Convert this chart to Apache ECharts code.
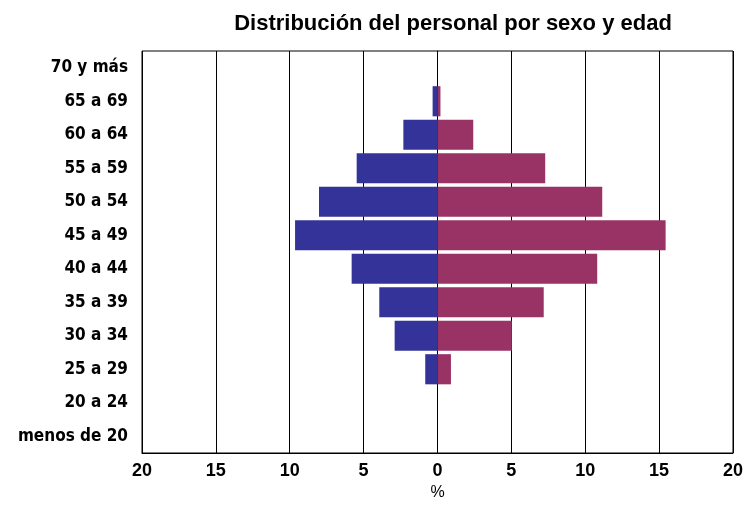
<!DOCTYPE html>
<html>
<head>
<meta charset="utf-8">
<script src="https://cdn.jsdelivr.net/npm/echarts@6/dist/echarts.min.js"></script>
<style>html,body{margin:0;padding:0;background:#fff}#c{width:746px;height:526px}</style>
</head>
<body>
<div id="c"></div>
<script>
var categories = ['menos de 20', '20 a 24', '25 a 29', '30 a 34', '35 a 39', '40 a 44', '45 a 49', '50 a 54', '55 a 59', '60 a 64', '65 a 69', '70 y más'];
var hombres = [0, 0, 0.83, 2.9, 3.94, 5.81, 9.64, 8.02, 5.47, 2.31, 0.33, 0];
var mujeres = [0, 0, 0.91, 5.03, 7.19, 10.81, 15.44, 11.15, 7.29, 2.42, 0.2, 0];
var xTicks = [-20, -15, -10, -5, 0, 5, 10, 15, 20];

var chart = echarts.init(document.getElementById('c'), null, {renderer: 'canvas'});
chart.setOption({
  animation: false,
  backgroundColor: '#fff',
  title: {
    text: 'Distribución del personal por sexo y edad',
    left: 448,
    textAlign: 'center',
    top: 8,
    textStyle: {fontFamily: 'Liberation Sans, Arial, sans-serif', fontWeight: 'bold', fontSize: 22, color: '#000'}
  },
  grid: {left: 142, right: 13, top: 51, bottom: 73, show: true, borderColor: '#000', borderWidth: 1, containLabel: false},
  xAxis: {
    type: 'value',
    min: xTicks[0],
    max: xTicks[xTicks.length - 1],
    interval: 5,
    name: '%',
    nameLocation: 'middle',
    nameGap: 31,
    nameTextStyle: {fontFamily: 'Liberation Sans, Arial, sans-serif', fontSize: 16, color: '#000'},
    axisLine: {show: true, lineStyle: {color: '#000', width: 1}},
    axisTick: {show: false},
    splitLine: {show: true, lineStyle: {color: '#000', width: 1}},
    axisLabel: {
      margin: 9,
      fontFamily: 'Liberation Sans, Arial, sans-serif',
      fontWeight: 'bold',
      fontSize: 18,
      color: '#000',
      formatter: function (v) { return String(Math.abs(v)); }
    }
  },
  yAxis: {
    type: 'category',
    data: categories,
    axisLine: {show: true, lineStyle: {color: '#000'}},
    axisTick: {show: false},
    splitLine: {show: false},
    axisLabel: {
      margin: 14,
      fontFamily: 'Liberation Sans Narrow, DejaVu Sans Condensed, Liberation Sans, sans-serif',
      fontWeight: 'bold',
      fontSize: 17,
      color: '#000'
    }
  },
  series: [
    {
      name: 'Hombres',
      type: 'bar',
      data: hombres.map(function (v) { return -v; }),
      barGap: '-100%',
      barCategoryGap: '10%',
      itemStyle: {color: '#333399'}
    },
    {
      name: 'Mujeres',
      type: 'bar',
      data: mujeres,
      barGap: '-100%',
      barCategoryGap: '10%',
      itemStyle: {color: '#993366'}
    }
  ]
});
</script>
</body>
</html>
